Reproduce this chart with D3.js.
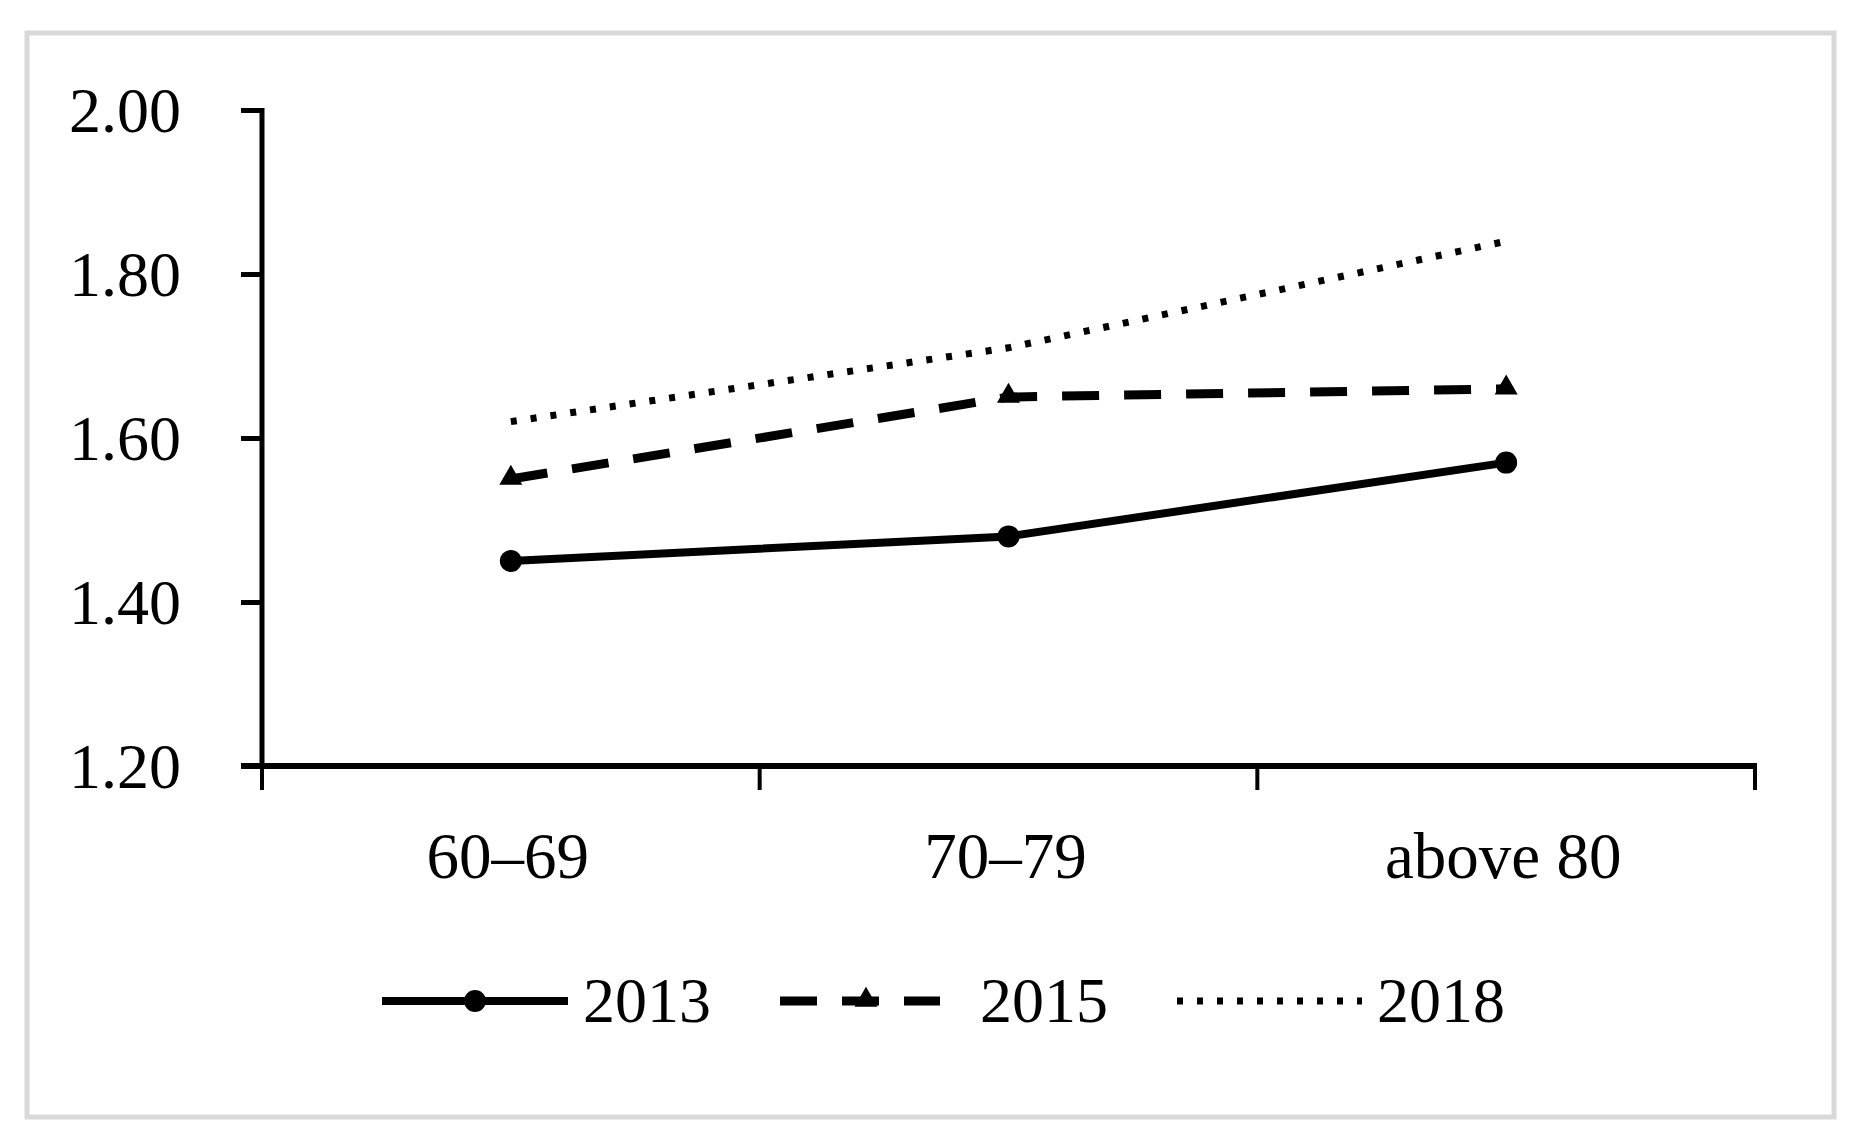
<!DOCTYPE html>
<html>
<head>
<meta charset="utf-8">
<script src="https://cdn.jsdelivr.net/npm/d3@7"></script>
<style>
  html, body { margin: 0; padding: 0; background: #fff; }
  svg text { font-family: "Liberation Serif", "DejaVu Serif", serif; fill: #000; }
</style>
</head>
<body>
<div id="chart"></div>
<script>
// chart values
const ageGroups = ['60–69', '70–79', 'above 80'];
const yTicks = [1.20, 1.40, 1.60, 1.80, 2.00];
const years = ['2013', '2015', '2018'];
const values2013 = [1.45, 1.48, 1.57];
const values2015 = [1.55, 1.65, 1.66];
const values2018 = [1.62, 1.71, 1.84];

var width = 1862;
var height = 1126;

var svg = d3.select('#chart').append('svg')
  .attr('width', width)
  .attr('height', height);

svg.append('rect')
  .attr('x', 27)
  .attr('y', 33)
  .attr('width', 1807)
  .attr('height', 1084)
  .attr('fill', '#fff')
  .attr('stroke', '#d9d9d9')
  .attr('stroke-width', 5);

var plotLeft = 262;
var plotRight = 1755;
var plotTop = 110;
var plotBottom = 766;

var x = d3.scaleBand()
  .domain(ageGroups)
  .range([plotLeft, plotRight]);

var y = d3.scaleLinear()
  .domain([1.2, 2.0])
  .range([plotBottom, plotTop]);

// y axis
var yAxis = svg.append('g')
  .attr('transform', 'translate(' + plotLeft + ',0)')
  .call(d3.axisLeft(y).tickValues(yTicks).tickSize(21).tickPadding(60)
    .tickFormat(d3.format('.2f')));
yAxis.select('.domain').remove();
yAxis.selectAll('.tick line').attr('stroke', '#000').attr('stroke-width', 5);
yAxis.selectAll('.tick text')
  .attr('font-size', 64)
  .attr('font-family', '"Liberation Serif", serif')
  .attr('dy', '0.34em');
svg.append('line')
  .attr('x1', plotLeft).attr('x2', plotLeft)
  .attr('y1', plotTop - 2).attr('y2', plotBottom)
  .attr('stroke', '#000')
  .attr('stroke-width', 5);

// x axis
var xAxis = svg.append('g')
  .attr('transform', 'translate(0,' + plotBottom + ')');
xAxis.append('line')
  .attr('x1', plotLeft - 21).attr('x2', plotRight + 2)
  .attr('stroke', '#000')
  .attr('stroke-width', 6);
var xBounds = ageGroups.map(d => x(d)).concat([plotRight]);
xAxis.selectAll('line.tk')
  .data(xBounds)
  .enter().append('line')
  .attr('class', 'tk')
  .attr('x1', d => d).attr('x2', d => d)
  .attr('y1', 0).attr('y2', 24)
  .attr('stroke', '#000')
  .attr('stroke-width', 4);

var cx = d => x(d) + x.bandwidth() / 2;

xAxis.selectAll('text')
  .data(ageGroups)
  .enter().append('text')
  .attr('x', d => cx(d) - 3)
  .attr('y', 112)
  .attr('text-anchor', 'middle')
  .attr('font-size', 65)
  .text(d => d);

var series = [
  {name: years[0], values: values2013, dash: null, width: 8, marker: 'circle'},
  {name: years[1], values: values2015, dash: '37,25', width: 9, marker: 'triangle'},
  {name: years[2], values: values2018, dash: '6,14', width: 7, marker: null}
];

var line = d3.line()
  .x(d => cx(d.cat))
  .y(d => y(d.v));

series.forEach(function (s) {
  var pts = ageGroups.map((c, i) => ({cat: c, v: s.values[i]}));
  svg.append('path')
    .datum(pts)
    .attr('d', line)
    .attr('fill', 'none')
    .attr('stroke', '#000')
    .attr('stroke-width', s.width)
    .attr('stroke-dasharray', s.dash);
  if (s.marker === 'circle') {
    svg.selectAll(null)
      .data(pts)
      .enter().append('circle')
      .attr('cx', d => cx(d.cat))
      .attr('cy', d => y(d.v))
      .attr('r', 11)
      .attr('fill', '#000');
  } else if (s.marker === 'triangle') {
    svg.selectAll(null)
      .data(pts)
      .enter().append('path')
      .attr('d', d3.symbol().type(d3.symbolTriangle).size(230))
      .attr('transform', d => 'translate(' + cx(d.cat) + ',' + (y(d.v) - 1) + ')')
      .attr('fill', '#000');
  }
});

// legend
var legendY = 1001;
var legendItems = [
  {x0: 382, x1: 568, tx: 583, mx: 475},
  {x0: 780, x1: 940, tx: 980, mx: 866},
  {x0: 1177, x1: 1362, tx: 1377, mx: null}
];
series.forEach(function (s, i) {
  var it = legendItems[i];
  var g = svg.append('g');
  g.append('line')
    .attr('x1', it.x0).attr('x2', it.x1)
    .attr('y1', legendY).attr('y2', legendY)
    .attr('stroke', '#000')
    .attr('stroke-width', s.width)
    .attr('stroke-dasharray', s.dash);
  if (s.marker === 'circle') {
    g.append('circle').attr('cx', it.mx).attr('cy', legendY).attr('r', 11).attr('fill', '#000');
  } else if (s.marker === 'triangle') {
    g.append('path')
      .attr('d', d3.symbol().type(d3.symbolTriangle).size(230))
      .attr('transform', 'translate(' + it.mx + ',' + (legendY - 1) + ')')
      .attr('fill', '#000');
  }
  g.append('text')
    .attr('x', it.tx)
    .attr('y', legendY + 21)
    .attr('font-size', 64)
    .text(s.name);
});
</script>
</body>
</html>
